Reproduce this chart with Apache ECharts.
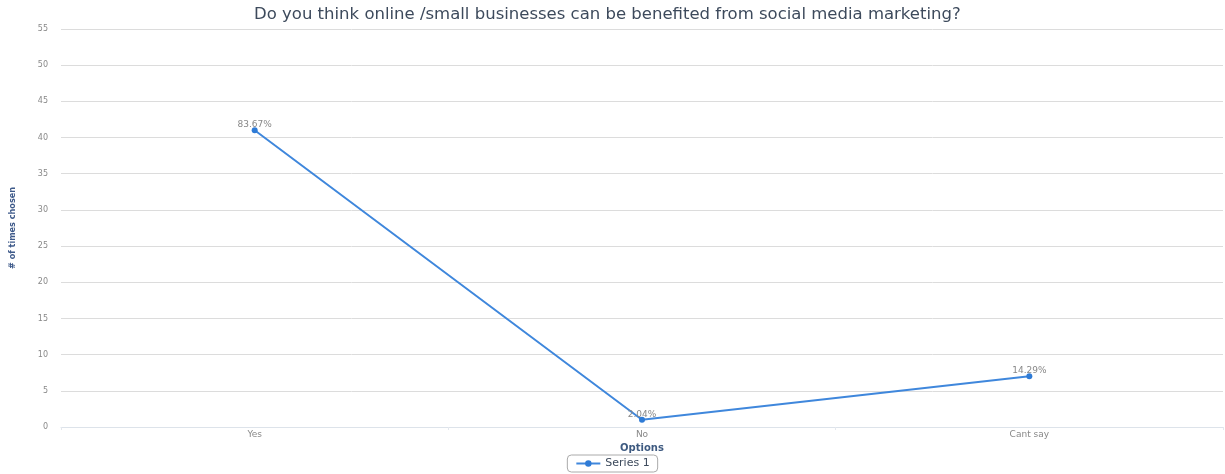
<!DOCTYPE html>
<html><head><meta charset="utf-8">
<script src="https://cdn.jsdelivr.net/npm/echarts@6/dist/echarts.min.js"></script>
<style>html,body{margin:0;padding:0;background:#fff}#c{width:1225px;height:474px}</style>
</head><body><div id="c"></div>
<script>
const categories = ["Yes", "No", "Cant say"];
const counts = [41, 1, 7];
const percentLabels = ["83.67%", "2.04%", "14.29%"];
const chart = echarts.init(document.getElementById('c'));
chart.setOption({
  animation: false,
  title: {
    text: "Do you think online /small businesses can be benefited from social media marketing?",
    left: 249, top: 1,
    textStyle: {fontFamily: 'DejaVu Sans', fontSize: 16.5, fontWeight: 'normal', color: '#3d4a5c'}
  },
  legend: {
    bottom: 2, left: 'center',
    data: ['Series 1'],
    borderColor: '#aaa', borderWidth: 1, borderRadius: 4, padding: [3, 8],
    itemWidth: 24, itemHeight: 8,
    textStyle: {fontFamily: 'DejaVu Sans', fontSize: 11, color: '#3d4a5c'}
  },
  grid: {left: 60, right: 2, top: 29, bottom: 47},
  xAxis: {
    type: 'category', data: categories, boundaryGap: true,
    name: 'Options', nameLocation: 'middle', nameGap: 14,
    nameTextStyle: {fontFamily: 'DejaVu Sans', fontSize: 10, fontWeight: 'bold', color: '#3e5a80'},
    axisLine: {lineStyle: {color: '#dde3ea'}},
    axisTick: {show: true, length: 3, lineStyle: {color: '#e4e8ee'}},
    axisLabel: {fontFamily: 'DejaVu Sans', fontSize: 9, color: '#888', margin: 3}
  },
  yAxis: {
    type: 'value', min: 0, max: 55, interval: 5,
    name: '# of times chosen', nameLocation: 'middle', nameGap: 44,
    nameTextStyle: {fontFamily: 'DejaVu Sans Condensed', fontSize: 9, fontWeight: 'bold', color: '#3e5a8a'},
    axisLine: {show: false},
    axisTick: {show: false},
    splitLine: {lineStyle: {color: '#dcdcdc'}},
    axisLabel: {fontFamily: 'DejaVu Sans', fontSize: 8, color: '#888', margin: 13}
  },
  series: [{
    name: 'Series 1', type: 'line', data: counts,
    symbol: 'circle', symbolSize: 6,
    lineStyle: {color: '#3f87dc', width: 2},
    itemStyle: {color: '#2f7bd6'},
    label: {
      show: true, position: 'top', distance: -2,
      formatter: p => percentLabels[p.dataIndex],
      fontFamily: 'DejaVu Sans', fontSize: 9, color: '#888'
    }
  }]
});
</script></body></html>
